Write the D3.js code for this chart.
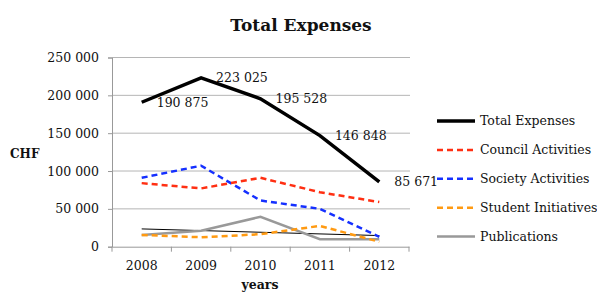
<!DOCTYPE html>
<html>
<head>
<meta charset="utf-8">
<script src="https://cdn.jsdelivr.net/npm/d3@7"></script>
<style>
  body { margin: 0; background: #fff; }
  text { font-family: "DejaVu Serif", serif; fill: #111; }
</style>
</head>
<body>
<svg id="chart" width="597" height="295"></svg>
<script>
const years = ["2008", "2009", "2010", "2011", "2012"];
const totalExpenses = [190875, 223025, 195528, 146848, 85671];
const councilActivities = [84000, 77000, 91000, 72000, 59000];
const societyActivities = [91000, 107000, 61000, 50000, 13000];
const studentInitiatives = [15500, 12500, 16500, 27500, 6500];
const publications = [15500, 21000, 39500, 10000, 10000];
// thin black trend line (publications), endpoints
const trendYears = ["2008", "2012"];
const trendValues = [23500, 14700];
const yTicks = [0, 50000, 100000, 150000, 200000, 250000];

const series = [
  { name: "Total Expenses", values: totalExpenses, color: "#000", width: 3.5, dash: null },
  { name: "Council Activities", values: councilActivities, color: "#ff2f12", width: 2.5, dash: "6,4" },
  { name: "Society Activities", values: societyActivities, color: "#1530ff", width: 2.5, dash: "6,4" },
  { name: "Student Initiatives", values: studentInitiatives, color: "#ff9a12", width: 2.5, dash: "6,4" },
  { name: "Publications", values: publications, color: "#999", width: 2.5, dash: null },
];

const svg = d3.select("#chart");
const plotLeft = 112, plotRight = 409, plotTop = 57.5, plotBottom = 246.7;

const x = d3.scaleBand().domain(years).range([plotLeft, plotRight]).padding(0);
const y = d3.scaleLinear().domain([0, 250000]).range([plotBottom, plotTop]);
const fmt = v => d3.format(",")(v).replace(/,/g, " ");
const cx = d => x(d) + x.bandwidth() / 2;

// grid
svg.append("g")
  .selectAll("line")
  .data(yTicks.slice(1))
  .join("line")
  .attr("x1", plotLeft).attr("x2", plotRight + 1)
  .attr("y1", d => y(d)).attr("y2", d => y(d))
  .attr("stroke", "#b5b5b5").attr("stroke-width", 1);

// y axis
const yAxis = svg.append("g")
  .attr("transform", `translate(${plotLeft},0)`)
  .call(d3.axisLeft(y).tickValues(yTicks).tickFormat(fmt).tickSize(4).tickPadding(9));
yAxis.select(".domain").attr("stroke", "#999");
yAxis.selectAll(".tick line").attr("stroke", "#999");
yAxis.selectAll("text").style("font-size", "12.5px").attr("fill", "#111");

// x axis
const xAxis = svg.append("g")
  .attr("transform", `translate(0,${plotBottom})`)
  .call(d3.axisBottom(x).tickSize(0).tickPadding(14));
xAxis.select(".domain").attr("stroke", "#999");
xAxis.selectAll("text").style("font-size", "12.5px").attr("fill", "#111");
xAxis.append("g")
  .selectAll("line")
  .data(years.concat(["end"]))
  .join("line")
  .attr("x1", (d, i) => plotLeft + i * x.bandwidth())
  .attr("x2", (d, i) => plotLeft + i * x.bandwidth())
  .attr("y1", 0).attr("y2", 5)
  .attr("stroke", "#999");

// lines
const line = d3.line().x(d => cx(d.year)).y(d => y(d.value));

svg.append("path")
  .datum(trendYears.map((yr, i) => ({ year: yr, value: trendValues[i] })))
  .attr("d", line)
  .attr("fill", "none").attr("stroke", "#000").attr("stroke-width", 1);

series.slice().reverse().forEach(s => {
  svg.append("path")
    .datum(years.map((yr, i) => ({ year: yr, value: s.values[i] })))
    .attr("d", line)
    .attr("fill", "none")
    .attr("stroke", s.color)
    .attr("stroke-width", s.width)
    .attr("stroke-dasharray", s.dash);
});

// value labels on total
svg.append("g")
  .selectAll("text")
  .data(totalExpenses)
  .join("text")
  .attr("x", (d, i) => cx(years[i]) + 15)
  .attr("y", d => y(d))
  .attr("dy", "0.35em")
  .style("font-size", "12.5px")
  .text(fmt);

// legend
const legend = svg.append("g").attr("transform", "translate(437,121)");
series.forEach((s, i) => {
  const g = legend.append("g").attr("transform", `translate(0,${i * 28.9})`);
  g.append("line")
    .attr("x1", 0).attr("x2", 38)
    .attr("stroke", s.color).attr("stroke-width", s.width)
    .attr("stroke-dasharray", s.dash);
  g.append("text")
    .attr("x", 43).attr("dy", "0.35em")
    .style("font-size", "12.5px")
    .text(s.name);
});

// titles
svg.append("text")
  .attr("x", 301).attr("y", 31)
  .attr("text-anchor", "middle")
  .style("font-size", "17px").style("font-weight", "bold")
  .text("Total Expenses");

svg.append("text")
  .attr("x", 10).attr("y", 158)
  .style("font-size", "12px").style("font-weight", "bold")
  .text("CHF");

svg.append("text")
  .attr("x", 260).attr("y", 289)
  .attr("text-anchor", "middle")
  .style("font-size", "12.5px").style("font-weight", "bold")
  .text("years");
</script>
</body>
</html>
